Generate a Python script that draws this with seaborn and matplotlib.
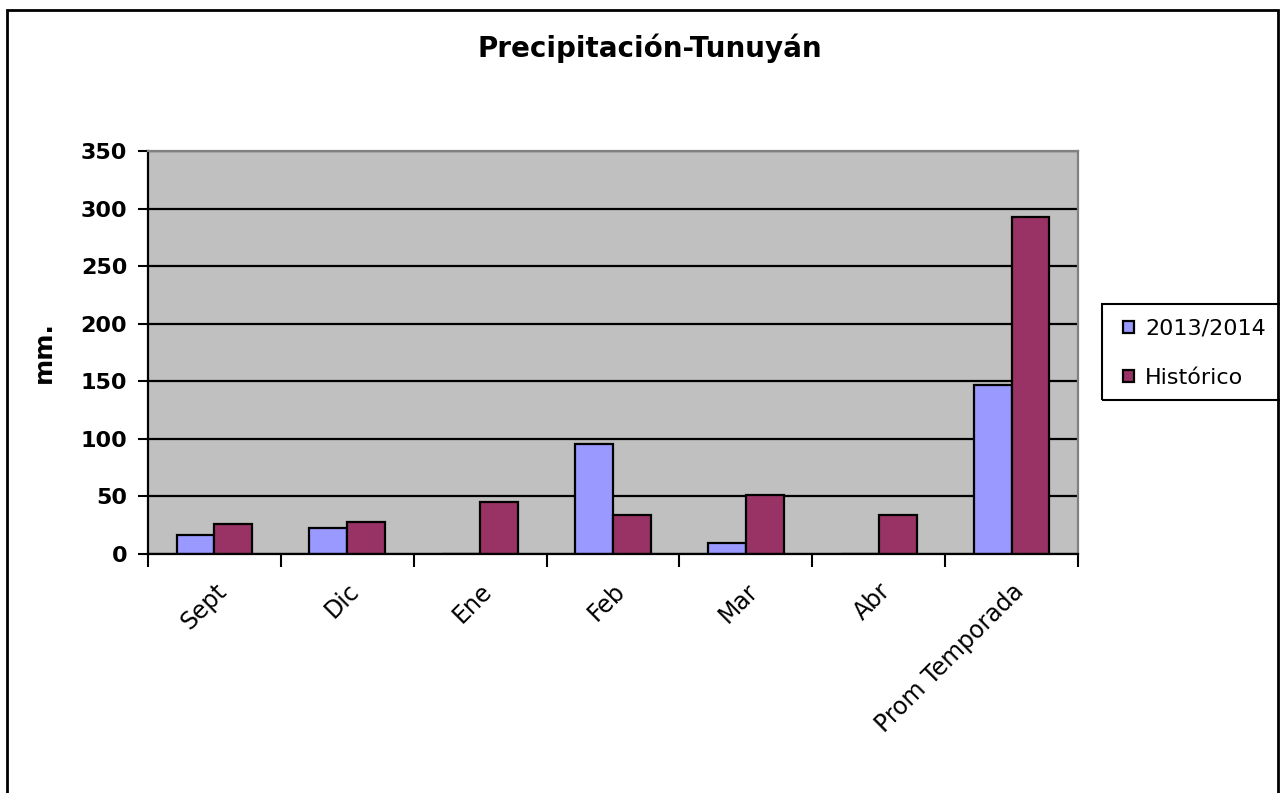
import pandas as pd
import seaborn as sns
import matplotlib.pyplot as plt
from matplotlib.patches import Rectangle
from matplotlib.ticker import FixedLocator

meses = ['Sept', 'Dic', 'Ene', 'Feb', 'Mar', 'Abr', 'Prom Temporada']
temporada = [16.8, 22.3, 0, 95.4, 9.8, 0, 146.5]
historico = [25.8, 27.5, 44.9, 34.2, 51.4, 34.1, 292.8]
series = ['2013/2014', 'Histórico']
colores = ['#9999FF', '#993366']

df = pd.DataFrame({
    'Mes': meses * 2,
    'Serie': [series[0]] * len(meses) + [series[1]] * len(meses),
    'mm': temporada + historico,
})

sns.set_style('white')
plt.rcParams['font.family'] = ['DejaVu Sans']
plt.rcParams['text.color'] = 'black'
plt.rcParams['axes.labelcolor'] = 'black'
plt.rcParams['xtick.color'] = 'black'
plt.rcParams['ytick.color'] = 'black'

fig = plt.figure(figsize=(12.8, 7.93), dpi=100)
ax = fig.add_axes([148 / 1280, 1 - 554 / 793, 930 / 1280, 403 / 793])
ax.set_facecolor('#C0C0C0')

sns.barplot(data=df, x='Mes', y='mm', hue='Serie', palette=colores, saturation=1,
            width=0.57, edgecolor='black', linewidth=1.6, ax=ax)

ax.set_xlim(-0.5, len(meses) - 0.5)
ax.set_ylim(0, 350)
ax.set_yticks(range(0, 351, 50))
ax.yaxis.grid(True, color='black', linewidth=1.6)
ax.set_axisbelow(True)

# ticks on category boundaries, labels at centres
ax.xaxis.set_minor_locator(FixedLocator([i - 0.5 for i in range(len(meses) + 1)]))
ax.tick_params(axis='x', which='major', length=0, pad=18)
ax.tick_params(axis='x', which='minor', length=9, width=1.5, color='black', direction='out', bottom=True)
ax.tick_params(axis='y', length=7, width=1.5, color='black', direction='out', left=True, pad=8)
ax.set_xticks(range(len(meses)))
ax.set_xticklabels(meses, rotation=45, ha='right', rotation_mode='anchor', fontsize=17)
for lab in ax.get_yticklabels():
    lab.set_fontsize(16)
    lab.set_fontweight('bold')

for s in ['left', 'bottom']:
    ax.spines[s].set_color('black')
    ax.spines[s].set_linewidth(1.6)
for s in ['top', 'right']:
    ax.spines[s].set_visible(True)
    ax.spines[s].set_color('#808080')
    ax.spines[s].set_linewidth(1.6)

ax.set_xlabel('')
ax.set_ylabel('mm.', fontsize=18, fontweight='bold', labelpad=18)

handles, labels = ax.get_legend_handles_labels()
ax.legend_.remove()
fig.legend(handles, labels, loc='upper left', bbox_to_anchor=(1123 / 1280, 1 - 319 / 793),
           frameon=False, fontsize=16,
           handlelength=0.5, handleheight=0.5, handletextpad=0.5,
           labelspacing=1.3, borderpad=0, borderaxespad=0)
fig.patches.append(Rectangle((1102 / 1280, 1 - 400 / 793), 190 / 1280, 96 / 793,
                             transform=fig.transFigure, fill=False,
                             edgecolor='black', linewidth=1.5))

fig.text(650 / 1280, 1 - 48 / 793, 'Precipitación-Tunuyán', ha='center', va='center',
         fontsize=20, fontweight='bold')

fig.patches.append(Rectangle((7 / 1280, -0.02), 1271 / 1280, 1 - 10 / 793 + 0.02,
                             transform=fig.transFigure, fill=False,
                             edgecolor='black', linewidth=2))

fig.savefig('out.png', dpi=100)
